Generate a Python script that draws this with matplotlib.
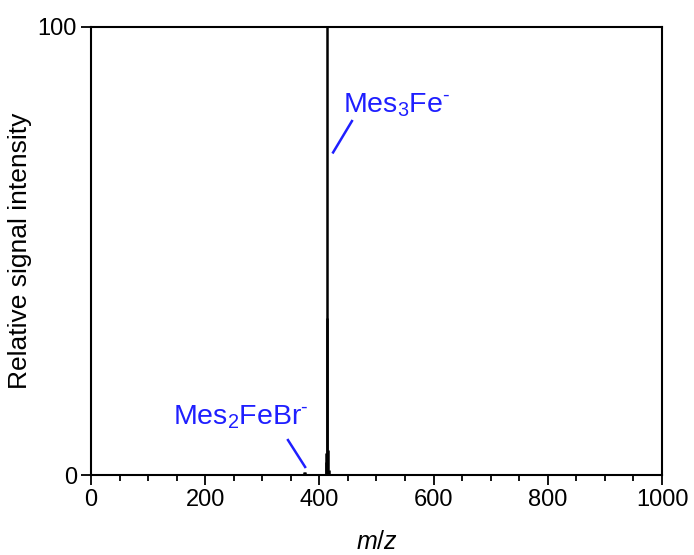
import matplotlib
matplotlib.use("Agg")
import matplotlib.pyplot as plt
from matplotlib.ticker import MultipleLocator

plt.rcParams['font.family'] = ['Liberation Sans', 'DejaVu Sans']
plt.rcParams['mathtext.fontset'] = 'custom'
plt.rcParams['mathtext.rm'] = 'Liberation Sans'
plt.rcParams['mathtext.it'] = 'Liberation Sans:italic'
plt.rcParams['mathtext.bf'] = 'Liberation Sans:bold'

# Spectrum data (stick peaks)
mz = [371, 373, 375, 377, 411, 412, 413, 414, 415, 416, 417]
intensity = [0.3, 0.6, 0.6, 0.3, 5.0, 3.0, 100.0, 35.0, 5.5, 1.2, 0.3]

xticks = [0, 200, 400, 600, 800, 1000]
yticks = [0, 100]

fig = plt.figure(figsize=(6.94, 5.55), dpi=100)
ax = fig.add_axes([0.1311, 0.1441, 0.9539 - 0.1311, 0.9514 - 0.1441])

ax.vlines(mz, 0, intensity, color='black', linewidth=1.8)

ax.set_xlim(0, 1000)
ax.set_ylim(0, 100)
ax.set_xticks(xticks)
ax.set_yticks(yticks)
ax.xaxis.set_minor_locator(MultipleLocator(50))
ax.tick_params(axis='both', which='major', direction='out', length=7, width=1.3,
               labelsize=17, top=False, right=False, pad=3)
ax.tick_params(axis='x', which='minor', direction='out', length=4, width=1.3,
               top=False)
ax.tick_params(axis='y', which='minor', left=False, right=False)
for s in ax.spines.values():
    s.set_linewidth(1.5)

ax.set_xlabel('$m$/$z$', fontsize=18, labelpad=14)
ax.set_ylabel('Relative signal intensity', fontsize=19, labelpad=4)

blue = '#1f1fff'
ax.plot([424, 457], [72, 79], color=blue, linewidth=1.8)
ax.text(441, 80.8, r'Mes$_3$Fe$^{\text{-}}$', color=blue, fontsize=20.5,
        ha='left', va='baseline')
ax.plot([345, 375], [7.8, 1.8], color=blue, linewidth=1.8)
ax.text(143.6, 11.2, r'Mes$_2$FeBr$^{\text{-}}$', color=blue, fontsize=20.5,
        ha='left', va='baseline')

fig.savefig('out.png', dpi=100)
